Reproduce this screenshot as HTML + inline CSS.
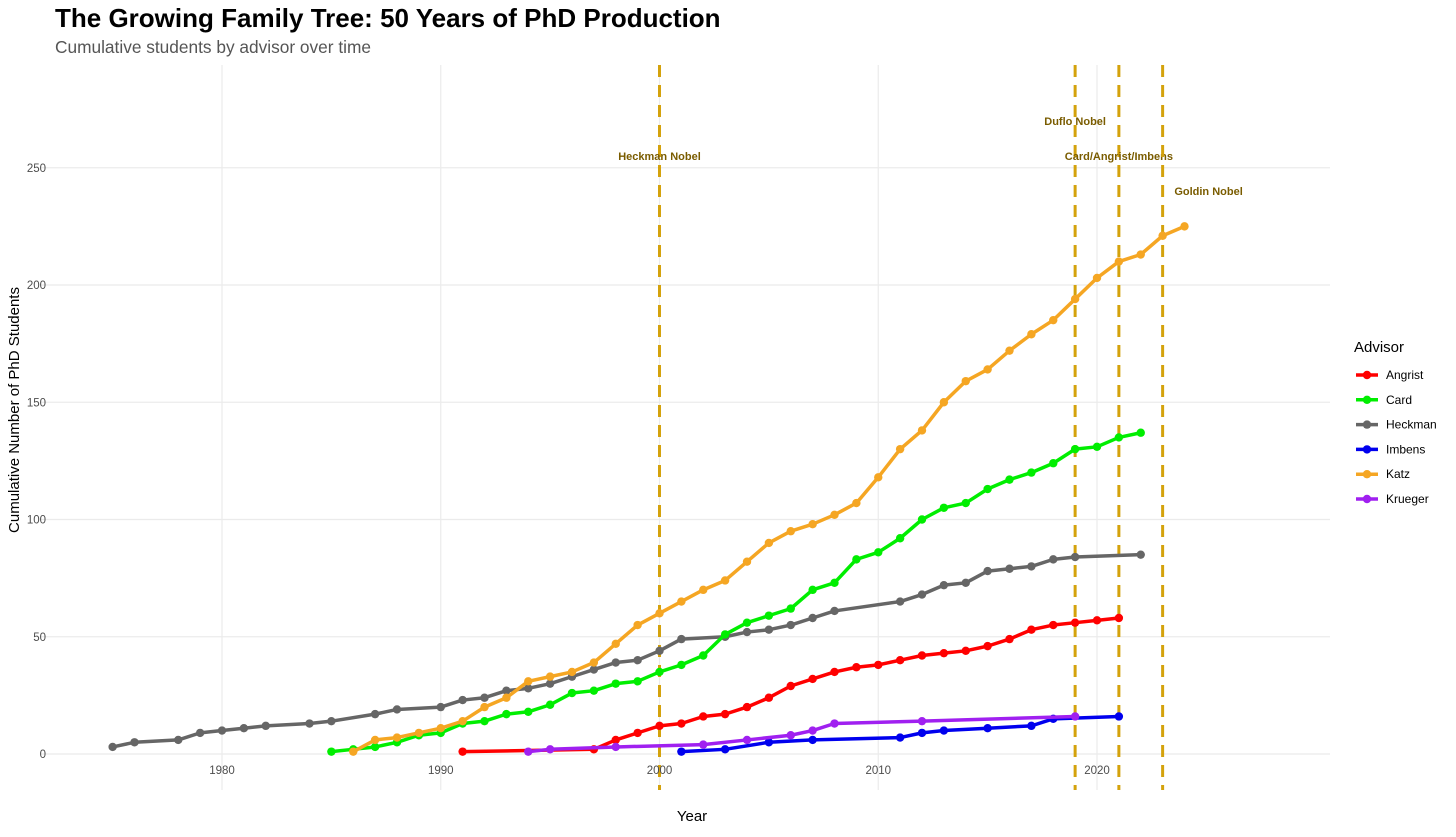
<!DOCTYPE html>
<html><head><meta charset="utf-8"><style>
body{margin:0;background:#fff;font-family:"Liberation Sans",sans-serif;}
svg text{font-family:"Liberation Sans",sans-serif;}
</style></head><body>
<svg id="chart" width="1456" height="832" xmlns="http://www.w3.org/2000/svg">
<text x="55" y="27" font-size="26" font-weight="bold" fill="#000">The Growing Family Tree: 50 Years of PhD Production</text>
<text x="55" y="53" font-size="17.3" fill="#555">Cumulative students by advisor over time</text>
<g id="grid"></g><g id="vlines"></g><g id="series"></g><g id="axes"></g><g id="legend"></g>
<text x="692" y="821" font-size="15" text-anchor="middle" fill="#000">Year</text>
<text transform="translate(19,410) rotate(-90)" font-size="15" text-anchor="middle" fill="#000">Cumulative Number of PhD Students</text>
</svg>
<script>
const advisors=["Angrist","Card","Heckman","Imbens","Katz","Krueger"];
const colors=["#ff0000","#00ee00","#666666","#0000ee","#f5a623","#a020f0"];
const angristYears=[1991,1997,1998,1999,2000,2001,2002,2003,2004,2005,2006,2007,2008,2009,2010,2011,2012,2013,2014,2015,2016,2017,2018,2019,2020,2021];
const angristVals=[1,2,6,9,12,13,16,17,20,24,29,32,35,37,38,40,42,43,44,46,49,53,55,56,57,58];
const cardYears=[1985,1986,1987,1988,1989,1990,1991,1992,1993,1994,1995,1996,1997,1998,1999,2000,2001,2002,2003,2004,2005,2006,2007,2008,2009,2010,2011,2012,2013,2014,2015,2016,2017,2018,2019,2020,2021,2022];
const cardVals=[1,2,3,5,8,9,13,14,17,18,21,26,27,30,31,35,38,42,51,56,59,62,70,73,83,86,92,100,105,107,113,117,120,124,130,131,135,137];
const heckmanYears=[1975,1976,1978,1979,1980,1981,1982,1984,1985,1987,1988,1990,1991,1992,1993,1994,1995,1996,1997,1998,1999,2000,2001,2003,2004,2005,2006,2007,2008,2011,2012,2013,2014,2015,2016,2017,2018,2019,2022];
const heckmanVals=[3,5,6,9,10,11,12,13,14,17,19,20,23,24,27,28,30,33,36,39,40,44,49,50,52,53,55,58,61,65,68,72,73,78,79,80,83,84,85];
const imbensYears=[2001,2003,2005,2007,2011,2012,2013,2015,2017,2018,2021];
const imbensVals=[1,2,5,6,7,9,10,11,12,15,16];
const katzYears=[1986,1987,1988,1989,1990,1991,1992,1993,1994,1995,1996,1997,1998,1999,2000,2001,2002,2003,2004,2005,2006,2007,2008,2009,2010,2011,2012,2013,2014,2015,2016,2017,2018,2019,2020,2021,2022,2023,2024];
const katzVals=[1,6,7,9,11,14,20,24,31,33,35,39,47,55,60,65,70,74,82,90,95,98,102,107,118,130,138,150,159,164,172,179,185,194,203,210,213,221,225];
const kruegerYears=[1994,1995,1998,2002,2004,2006,2007,2008,2012,2019];
const kruegerVals=[1,2,3,4,6,8,10,13,14,16];
const nobelYears=[2000,2019,2021,2023];
const nobelLabels=["Heckman Nobel","Duflo Nobel","Card/Angrist/Imbens","Goldin Nobel"];
const nobelLabelY=[255,270,255,240];
const nobelLabelX=[2000,2019,2021,2025.1];
const xTicks=[1980,1990,2000,2010,2020];
const yTicks=[0,50,100,150,200,250];

const X=y=>222+(y-1980)*21.875;
const Y=v=>754-v*2.345;
const NS="http://www.w3.org/2000/svg";
function mk(parent,tag,attrs){const e=document.createElementNS(NS,tag);for(const k in attrs)e.setAttribute(k,attrs[k]);parent.appendChild(e);return e;}
const grid=document.getElementById('grid'),vl=document.getElementById('vlines'),ser=document.getElementById('series'),ax=document.getElementById('axes'),lg=document.getElementById('legend');
yTicks.forEach(t=>{
 const l=mk(grid,'line',{x1:40,x2:1330,y1:Y(t),y2:Y(t),stroke:'#ebebeb','stroke-width':1.2});
 
 
 const tx=mk(ax,'text',{x:46,y:Y(t)+4,'font-size':11.5,'text-anchor':'end',fill:'#4d4d4d'});tx.textContent=t;
 
 
});
xTicks.forEach(t=>{
 const l=mk(grid,'line',{x1:X(t),x2:X(t),y1:65,y2:790,stroke:'#ebebeb','stroke-width':1.2});
 
 
 const tx=mk(ax,'text',{x:X(t),y:774,'font-size':11.5,'text-anchor':'middle',fill:'#4d4d4d'});tx.textContent=t;
 
 
});
nobelYears.forEach((yr,i)=>{
 const l=mk(vl,'line',{x1:X(yr),x2:X(yr),y1:65,y2:790,stroke:'#d4a20c','stroke-width':3,'stroke-dasharray':'12,8'});
 
 
 const tx=mk(vl,'text',{x:X(nobelLabelX[i]),y:Y(nobelLabelY[i])+4,'font-size':11,'font-weight':'bold','text-anchor':'middle',fill:'#7a5c00'});tx.textContent=nobelLabels[i];
 
 
});
const data=[[angristYears,angristVals],[cardYears,cardVals],[heckmanYears,heckmanVals],[imbensYears,imbensVals],[katzYears,katzVals],[kruegerYears,kruegerVals]];
const order=[2,1,4,0,3,5];
order.forEach(i=>{
 const [ys,vs]=data[i];
 const g=mk(ser,'g',{});
 
 
 const p=mk(g,'polyline',{points:ys.map((y,j)=>X(y)+','+Y(vs[j])).join(' '),fill:'none',stroke:colors[i],'stroke-width':3.5,'stroke-linejoin':'round'});
 
 
 ys.forEach((y,j)=>{
  const c=mk(g,'circle',{cx:X(y),cy:Y(vs[j]),r:4.2,fill:colors[i]});
  
  
 });
});
const lt=mk(lg,'text',{x:1354,y:352,'font-size':15,fill:'#000'});lt.textContent='Advisor';


advisors.forEach((a,i)=>{
 const y=375+i*24.8;
 const g=mk(lg,'g',{});
 
 
 mk(g,'line',{x1:1356,x2:1378,y1:y,y2:y,stroke:colors[i],'stroke-width':3.5});
 mk(g,'circle',{cx:1367,cy:y,r:4.2,fill:colors[i]});
 const t=mk(g,'text',{x:1386,y:y+4,'font-size':12,fill:'#000'});t.textContent=a;
});
</script>
</body></html>
